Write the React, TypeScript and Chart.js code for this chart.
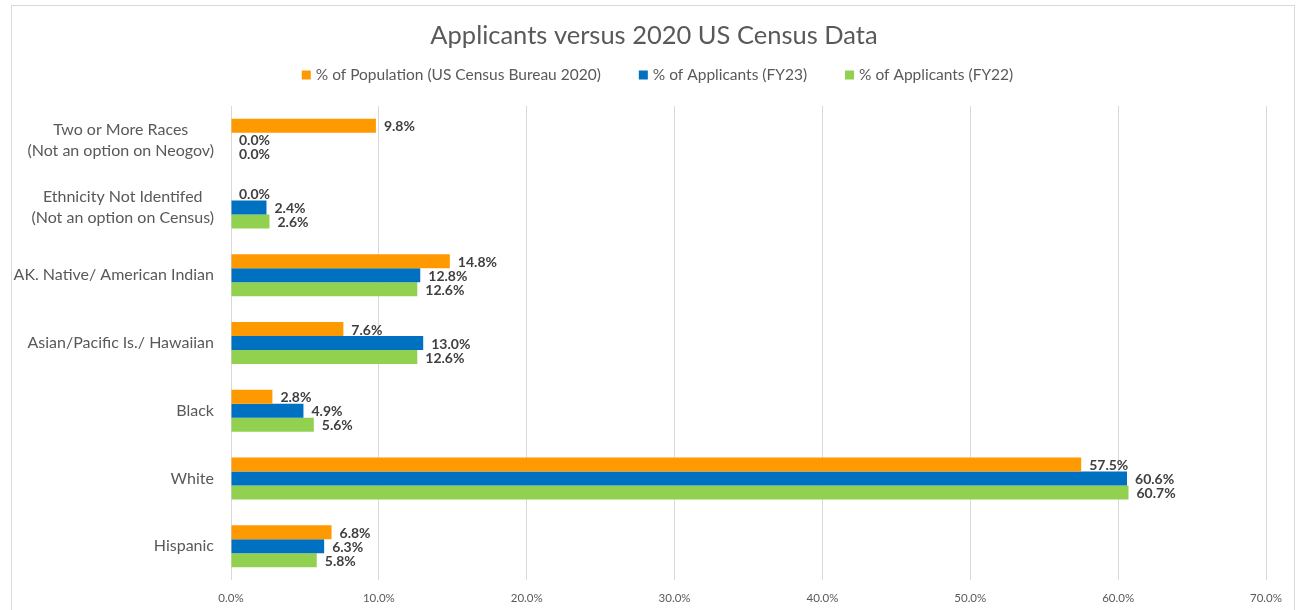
import React, { useEffect, useRef } from 'react';
import { Chart, registerables } from 'chart.js';

Chart.register(...registerables);

const titleText = 'Applicants versus 2020 US Census Data';
const categories: string[][] = [
  ['Two or More Races', '(Not an option on Neogov)'],
  ['Ethnicity Not Identifed', '(Not an option on Census)'],
  ['AK. Native/ American Indian'],
  ['Asian/Pacific Is./ Hawaiian'],
  ['Black'],
  ['White'],
  ['Hispanic'],
];
const seriesNames = [
  '% of Population (US Census Bureau 2020)',
  '% of Applicants (FY23)',
  '% of Applicants (FY22)',
];
const populationValues = [9.8, 0.0, 14.8, 7.6, 2.8, 57.5, 6.8];
const fy23Values = [0.0, 2.4, 12.8, 13.0, 4.9, 60.6, 6.3];
const fy22Values = [0.0, 2.6, 12.6, 12.6, 5.6, 60.7, 5.8];
const seriesColors = ['#FF9900', '#0070C0', '#92D050'];
const xMin = 0;
const xMax = 70;
const xStep = 10;

const FONT = 'Lato, "Open Sans", "DejaVu Sans", sans-serif';
const TEXT = '#595959';
const LABEL = '#404040';

const decorPlugin = {
  id: 'decor',
  beforeDraw(chart: any) {
    const { ctx, width, height } = chart;
    ctx.save();
    ctx.fillStyle = '#ffffff';
    ctx.fillRect(0, 0, width, height);
    ctx.strokeStyle = '#d9d9d9';
    ctx.lineWidth = 1;
    ctx.strokeRect(11.5, 5.5, 1283, 640);
    ctx.restore();
  },
  afterDraw(chart: any) {
    const { ctx } = chart;
    ctx.save();
    // Title
    ctx.fillStyle = TEXT;
    ctx.font = `25.5px ${FONT}`;
    ctx.textAlign = 'center';
    ctx.textBaseline = 'middle';
    ctx.fillText(titleText, 654, 36);

    // Legend
    ctx.font = `15.5px ${FONT}`;
    const box = 9;
    const gap = 5;
    const spacing = 38;
    const widths = seriesNames.map((n) => box + gap + ctx.measureText(n).width);
    const total = widths.reduce((a, b) => a + b, 0) + spacing * (widths.length - 1);
    let x = 657.5 - total / 2;
    const ly = 75;
    ctx.textAlign = 'left';
    seriesNames.forEach((n, i) => {
      ctx.fillStyle = seriesColors[i];
      ctx.fillRect(x, ly - box / 2, box, box);
      ctx.fillStyle = TEXT;
      ctx.fillText(n, x + box + gap, ly);
      x += widths[i] + spacing;
    });

    // Category labels
    const yScale = chart.scales.y;
    ctx.font = `16px ${FONT}`;
    ctx.fillStyle = TEXT;
    ctx.textAlign = 'center';
    const right = 214;
    const lh = 21;
    categories.forEach((lines, i) => {
      const yc = yScale.getPixelForValue(i);
      const widest = Math.max(...lines.map((l) => ctx.measureText(l).width));
      const cx = right - widest / 2;
      lines.forEach((l, j) => {
        ctx.fillText(l, cx, yc + (j - (lines.length - 1) / 2) * lh);
      });
    });

    // Data labels
    ctx.font = `bold 14px ${FONT}`;
    ctx.fillStyle = LABEL;
    ctx.textAlign = 'left';
    chart.data.datasets.forEach((ds: any, di: number) => {
      const meta = chart.getDatasetMeta(di);
      meta.data.forEach((el: any, i: number) => {
        const v = ds.data[i] as number;
        ctx.fillText(v.toFixed(1) + '%', el.x + 8, el.y + 1);
      });
    });
    ctx.restore();
  },
};

export default function App() {
  const ref = useRef<HTMLCanvasElement | null>(null);
  useEffect(() => {
    if (!ref.current) return;
    const chart = new Chart(ref.current, {
      type: 'bar',
      data: {
        labels: categories,
        datasets: [
          { label: seriesNames[0], data: populationValues, backgroundColor: seriesColors[0] },
          { label: seriesNames[1], data: fy23Values, backgroundColor: seriesColors[1] },
          { label: seriesNames[2], data: fy22Values, backgroundColor: seriesColors[2] },
        ],
      },
      options: {
        indexAxis: 'y',
        responsive: false,
        animation: false,
        layout: { padding: { left: 0, right: 30, top: 106, bottom: 6 } },
        datasets: { bar: { categoryPercentage: 0.62, barPercentage: 1 } },
        scales: {
          x: {
            min: xMin,
            max: xMax,
            ticks: {
              stepSize: xStep,
              callback: (v: any) => Number(v).toFixed(1) + '%',
              font: { family: FONT, size: 11.5 },
              color: TEXT,
              padding: 11,
            },
            grid: { color: '#d9d9d9', drawTicks: false },
            border: { display: false },
            afterFit: (s: any) => {
              s.height = 24;
            },
          },
          y: {
            ticks: { display: false },
            grid: { display: false },
            border: { display: false },
            afterFit: (s: any) => {
              s.width = 231;
            },
          },
        },
        plugins: {
          legend: { display: false },
          title: { display: false },
          tooltip: { enabled: false },
        },
      } as any,
      plugins: [decorPlugin],
    });
    return () => chart.destroy();
  }, []);
  return (
    <div style={{ position: 'absolute', left: 0, top: 0, width: 1296, height: 610 }}>
      <canvas ref={ref} width={1296} height={610} style={{ display: 'block' }} />
    </div>
  );
}
